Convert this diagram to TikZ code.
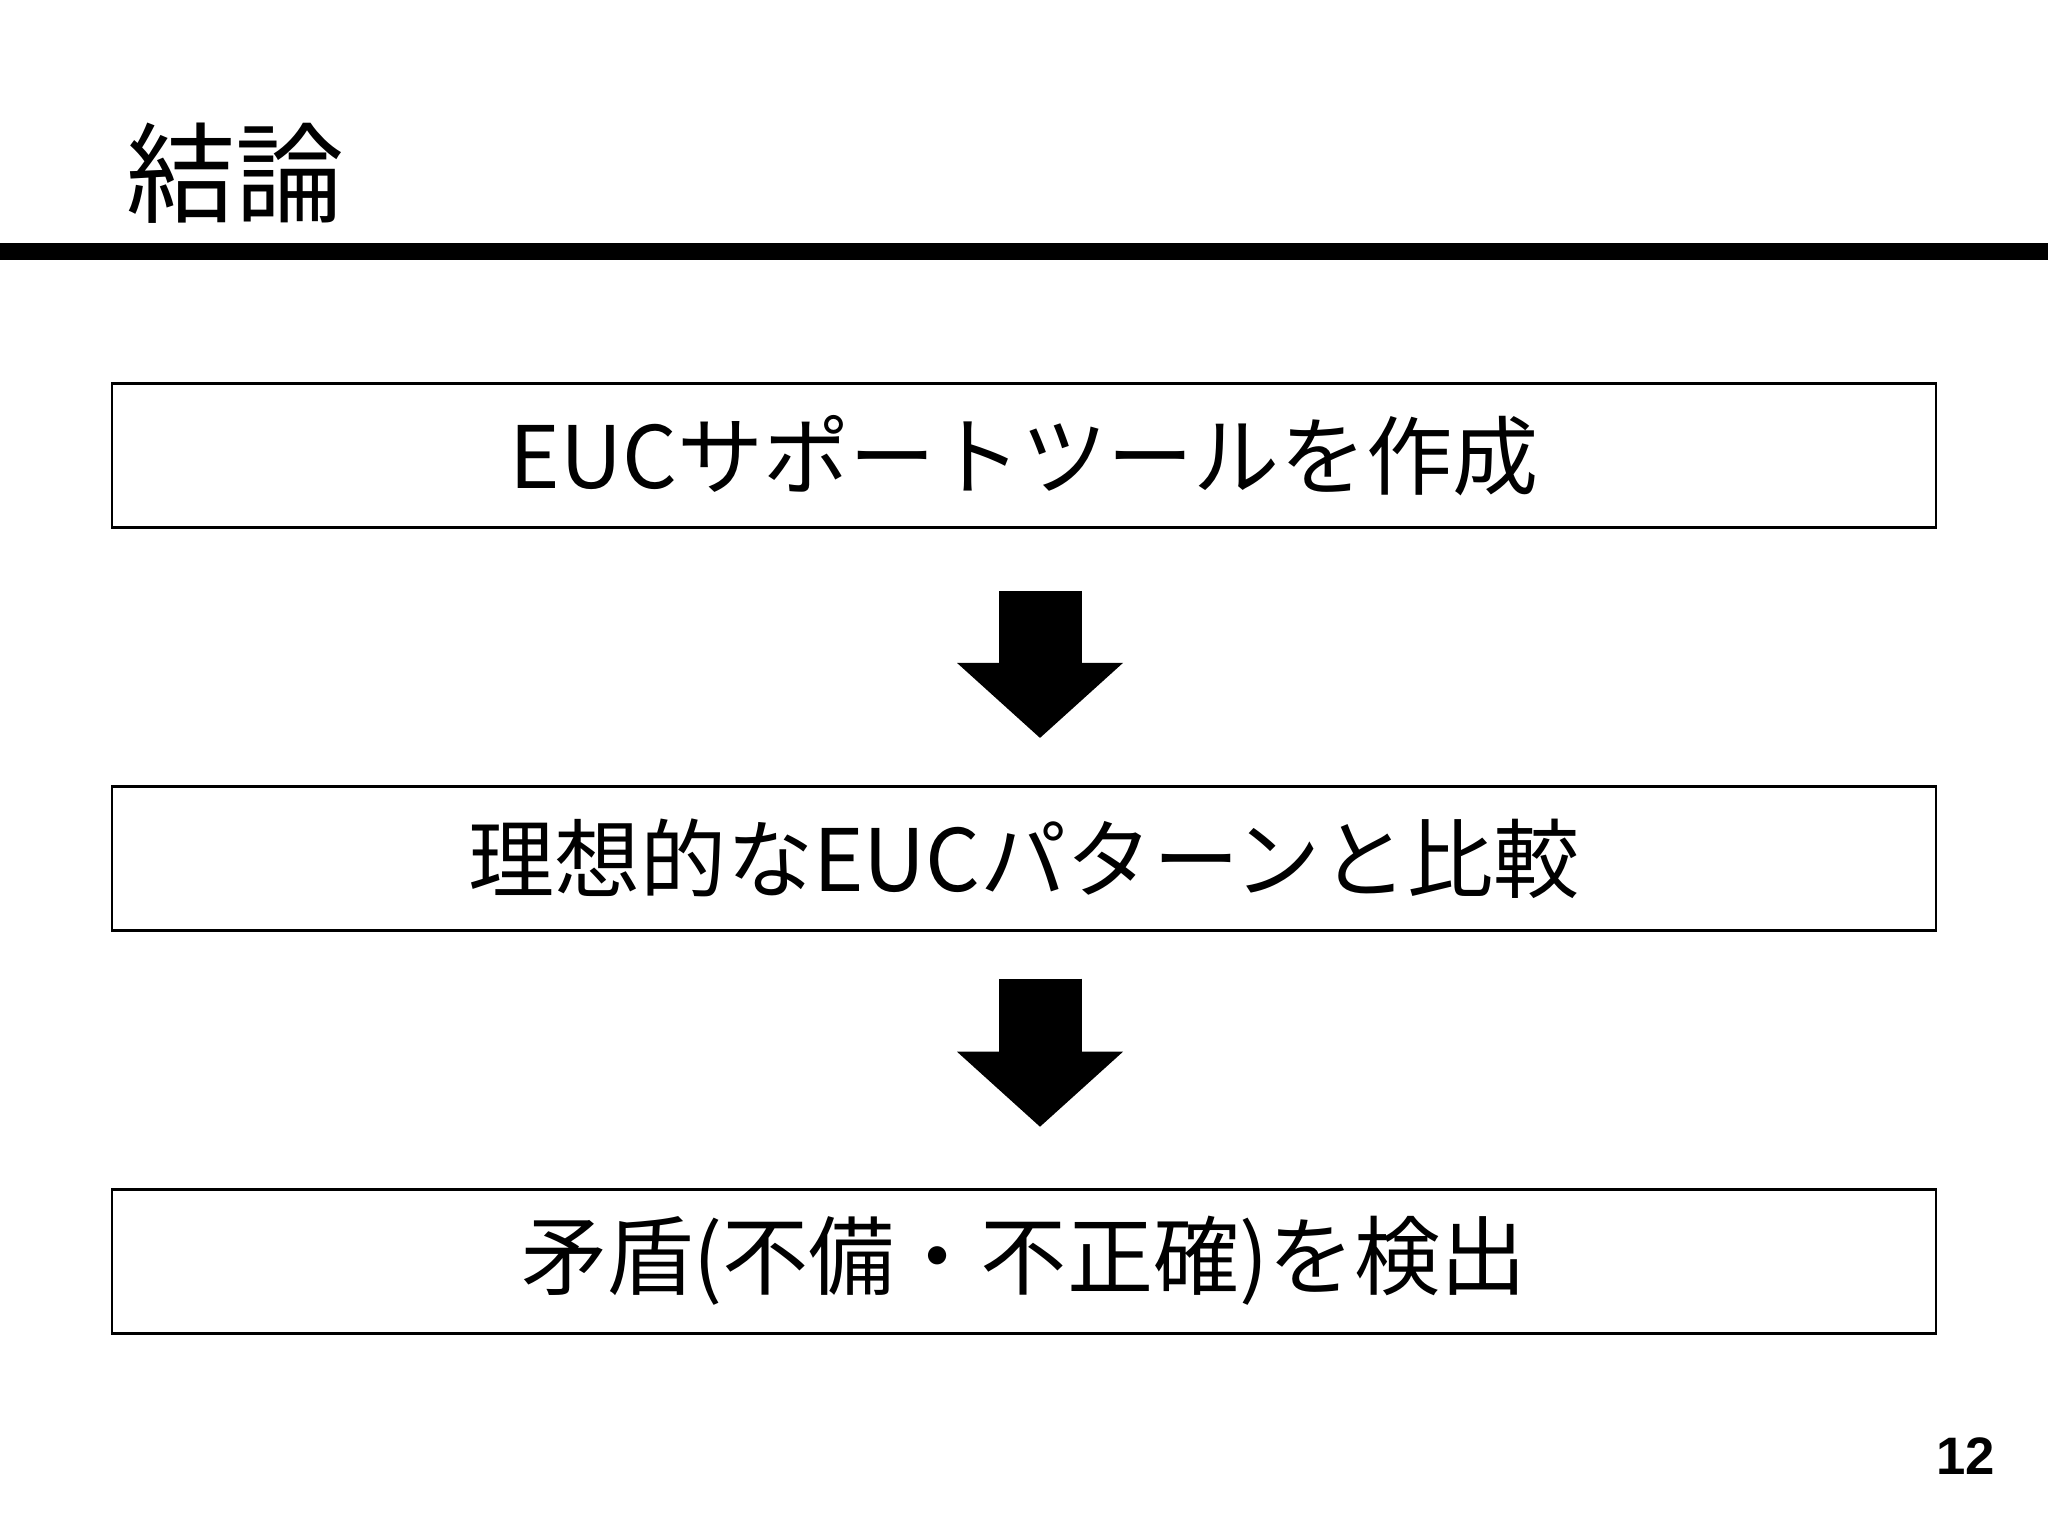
\documentclass[tikz,border=0pt]{standalone}
\usepackage{fontspec}
\setmainfont{Noto Sans CJK JP}
\newfontfamily\numfont{Liberation Sans}
\usepackage{xcolor}
\usepackage{tikz}
\usetikzlibrary{arrows.meta, positioning}

\begin{document}
\begin{tikzpicture}[
    stepbox/.style={rectangle, draw=black, line width=0.8pt, minimum width=18.24cm, minimum height=1.44cm, inner sep=0pt, font=\fontsize{24.5}{28}\selectfont},
    flowarrow/.style={line width=0.83cm, -{Triangle[length=0.75cm, width=1.66cm, line width=0pt]}}
]
    % Page frame
    \useasboundingbox (0,0) rectangle (20.48,-15.36);
    \fill[white] (0,0) rectangle (20.48,-15.36);

    % Title and rule
    \node[anchor=west, inner sep=0pt, font=\fontsize{31}{34}\selectfont] (title) at (1.26,-1.73) {結論};
    \fill[black] (0,-2.43) rectangle (20.48,-2.60);

    % Three steps
    \node[stepbox] (make) at (10.24,-4.555) {EUCサポートツールを作成};
    \node[stepbox, below=2.56cm of make] (compare) {理想的なEUCパターンと比較};
    \node[stepbox, below=2.56cm of compare] (detect) {矛盾(不備・不正確)を検出};

    % Block arrows between steps
    \draw[flowarrow, shorten <=0.62cm, shorten >=0.47cm] ([xshift=0.16cm]make.south) -- ([xshift=0.16cm]compare.north);
    \draw[flowarrow, shorten <=0.47cm, shorten >=0.61cm] ([xshift=0.16cm]compare.south) -- ([xshift=0.16cm]detect.north);

    % Page number
    \node[anchor=base east, inner sep=0pt, font=\numfont\bfseries\fontsize{15}{18}\selectfont] (pagenum) at (19.96,-14.74) {12};
\end{tikzpicture}
\end{document}
